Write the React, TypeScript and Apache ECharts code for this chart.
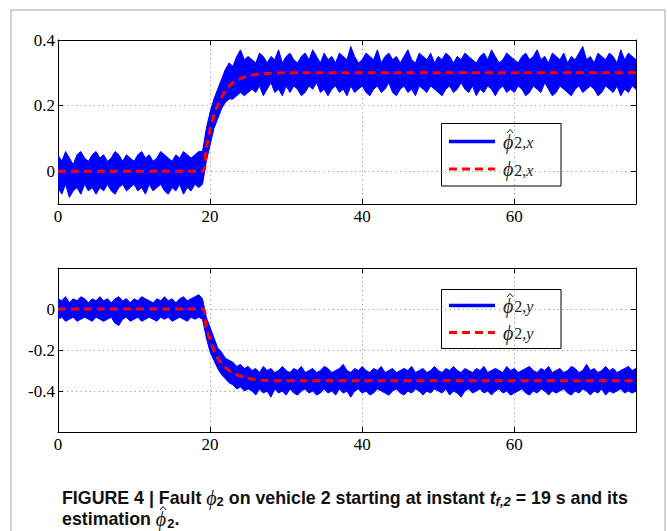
import React, { useEffect, useRef } from 'react';
import * as echarts from 'echarts';

// ---- sampling grid of the estimated signals (seconds) ----
const T_STEP = 0.5;
const T_MAX = 76;

// ---- tick values ----
const X_TICKS = [0, 20, 40, 60];
const TOP_Y_TICKS = [0, 0.2, 0.4];
const BOT_Y_TICKS = [-0.4, -0.2, 0];

// ---- estimated fault phi_hat_{2,x}: upper / lower envelope of the noisy trace (every 0.5 s) ----
const xUpper = [
  0.05, 0.03, 0.06, 0.04, 0.02, 0.05, 0.06, 0.04, 0.03, 0.05,
  0.06, 0.04, 0.05, 0.03, 0.04, 0.06, 0.05, 0.03, 0.05, 0.04,
  0.03, 0.05, 0.06, 0.04, 0.05, 0.03, 0.04, 0.06, 0.05, 0.04,
  0.03, 0.05, 0.04, 0.06, 0.05, 0.04, 0.05, 0.06,
  0.06,
  0.13, 0.18, 0.22, 0.25, 0.28, 0.31, 0.33, 0.32, 0.35, 0.37, 0.34, 0.35,
  0.34, 0.33, 0.36, 0.35, 0.33, 0.35, 0.34, 0.37, 0.33, 0.35,
  0.36, 0.34, 0.33, 0.35, 0.36, 0.34, 0.37, 0.35, 0.33, 0.36,
  0.34, 0.35, 0.33, 0.36, 0.35, 0.34, 0.38, 0.35, 0.33, 0.34,
  0.36, 0.35, 0.34, 0.37, 0.33, 0.35, 0.36, 0.34, 0.35, 0.33,
  0.35, 0.37, 0.34, 0.33, 0.36, 0.35, 0.34, 0.36, 0.33, 0.35,
  0.34, 0.36, 0.35, 0.33, 0.35, 0.34, 0.36, 0.35, 0.34, 0.33,
  0.35, 0.36, 0.34, 0.37, 0.35, 0.33, 0.34, 0.36, 0.35, 0.34,
  0.33, 0.35, 0.36, 0.34, 0.35, 0.37, 0.34, 0.35, 0.33, 0.36,
  0.35, 0.34, 0.36, 0.33, 0.35, 0.34, 0.36, 0.38, 0.34, 0.35,
  0.33, 0.36, 0.35, 0.34, 0.36, 0.35, 0.33, 0.37, 0.34, 0.36,
  0.35, 0.34,
];
const xLower = [
  -0.05, -0.07, -0.04, -0.08, -0.06, -0.05, -0.07, -0.04, -0.06, -0.05,
  -0.07, -0.05, -0.06, -0.04, -0.06, -0.07, -0.05, -0.04, -0.06, -0.05,
  -0.04, -0.06, -0.05, -0.07, -0.04, -0.06, -0.05, -0.04, -0.06, -0.07,
  -0.05, -0.06, -0.04, -0.07, -0.05, -0.06, -0.04, -0.05,
  -0.04,
  0.03, 0.08, 0.13, 0.16, 0.19, 0.21, 0.22, 0.22, 0.23, 0.24, 0.23, 0.24,
  0.25, 0.24, 0.26, 0.23, 0.25, 0.27, 0.24, 0.25, 0.23, 0.26,
  0.24, 0.26, 0.25, 0.23, 0.24, 0.26, 0.25, 0.27, 0.24, 0.25,
  0.23, 0.25, 0.26, 0.24, 0.25, 0.23, 0.26, 0.24, 0.25, 0.26,
  0.24, 0.23, 0.25, 0.26, 0.24, 0.25, 0.27, 0.24, 0.23, 0.25,
  0.26, 0.24, 0.25, 0.23, 0.26, 0.25, 0.24, 0.26, 0.25, 0.24,
  0.23, 0.25, 0.26, 0.24, 0.25, 0.27, 0.25, 0.24, 0.26, 0.23,
  0.25, 0.24, 0.26, 0.25, 0.23, 0.25, 0.26, 0.24, 0.25, 0.24,
  0.26, 0.25, 0.23, 0.24, 0.26, 0.25, 0.24, 0.27, 0.25, 0.23,
  0.24, 0.26, 0.25, 0.24, 0.23, 0.25, 0.26, 0.24, 0.25, 0.26,
  0.25, 0.23, 0.24, 0.26, 0.25, 0.24, 0.26, 0.23, 0.25, 0.24,
  0.26, 0.25,
];

// ---- true fault phi_{2,x} ----
const xRefT = [0, 19, 19.5, 20, 20.5, 21, 21.5, 22, 23, 24, 25, 26, 28, 30, 76];
const xRefV = [0, 0, 0.07, 0.125, 0.17, 0.2, 0.225, 0.245, 0.27, 0.283, 0.29, 0.295, 0.299, 0.3, 0.3];

// ---- estimated fault phi_hat_{2,y}: upper / lower envelope (every 0.5 s) ----
const yUpper = [
  0.05, 0.04, 0.06, 0.03, 0.05, 0.04, 0.06, 0.05, 0.03, 0.05,
  0.04, 0.06, 0.04, 0.05, 0.03, 0.05, 0.06, 0.04, 0.05, 0.03,
  0.05, 0.04, 0.06, 0.05, 0.04, 0.03, 0.05, 0.04, 0.06, 0.04,
  0.05, 0.03, 0.05, 0.06, 0.04, 0.05, 0.06, 0.07,
  0.05,
  -0.04, -0.09, -0.14, -0.19, -0.21, -0.24, -0.25, -0.26, -0.28, -0.27, -0.29, -0.28,
  -0.30, -0.29, -0.31, -0.28, -0.30, -0.29, -0.31, -0.30, -0.28, -0.30,
  -0.31, -0.29, -0.30, -0.28, -0.31, -0.30, -0.29, -0.31, -0.30, -0.28,
  -0.29, -0.31, -0.30, -0.29, -0.27, -0.30, -0.31, -0.29, -0.30, -0.28,
  -0.30, -0.31, -0.29, -0.30, -0.28, -0.31, -0.30, -0.29, -0.31, -0.30,
  -0.29, -0.30, -0.28, -0.31, -0.30, -0.29, -0.31, -0.30, -0.28, -0.30,
  -0.31, -0.29, -0.30, -0.28, -0.30, -0.31, -0.29, -0.30, -0.31, -0.29,
  -0.30, -0.28, -0.31, -0.30, -0.29, -0.30, -0.31, -0.28, -0.30, -0.29,
  -0.31, -0.30, -0.29, -0.28, -0.30, -0.31, -0.29, -0.30, -0.28, -0.31,
  -0.30, -0.29, -0.31, -0.30, -0.28, -0.29, -0.31, -0.30, -0.27, -0.30,
  -0.29, -0.31, -0.30, -0.28, -0.30, -0.29, -0.31, -0.30, -0.29, -0.28,
  -0.30, -0.29,
];
const yLower = [
  -0.05, -0.04, -0.06, -0.05, -0.04, -0.06, -0.05, -0.04, -0.05, -0.06,
  -0.04, -0.05, -0.06, -0.05, -0.04, -0.07, -0.08, -0.05, -0.04, -0.06,
  -0.05, -0.04, -0.06, -0.05, -0.04, -0.05, -0.06, -0.04, -0.05, -0.04,
  -0.06, -0.05, -0.04, -0.05, -0.06, -0.04, -0.05, -0.04,
  -0.05,
  -0.14, -0.21, -0.25, -0.29, -0.32, -0.34, -0.36, -0.37, -0.39, -0.38, -0.40, -0.39,
  -0.40, -0.42, -0.39, -0.41, -0.40, -0.43, -0.39, -0.41, -0.40, -0.42,
  -0.39, -0.41, -0.42, -0.40, -0.39, -0.41, -0.40, -0.42, -0.41, -0.39,
  -0.41, -0.40, -0.42, -0.39, -0.41, -0.40, -0.43, -0.40, -0.39, -0.41,
  -0.40, -0.42, -0.41, -0.39, -0.40, -0.41, -0.42, -0.40, -0.39, -0.41,
  -0.42, -0.40, -0.41, -0.39, -0.40, -0.42, -0.40, -0.41, -0.39, -0.40,
  -0.41, -0.39, -0.42, -0.40, -0.41, -0.43, -0.40, -0.39, -0.41, -0.40,
  -0.39, -0.41, -0.40, -0.42, -0.40, -0.39, -0.41, -0.40, -0.42, -0.41,
  -0.40, -0.39, -0.41, -0.42, -0.40, -0.41, -0.39, -0.40, -0.42, -0.40,
  -0.41, -0.40, -0.39, -0.41, -0.42, -0.40, -0.41, -0.39, -0.40, -0.42,
  -0.40, -0.41, -0.39, -0.42, -0.40, -0.41, -0.40, -0.39, -0.41, -0.40,
  -0.41, -0.40,
];

// ---- true fault phi_{2,y} ----
const yRefT = [0, 19, 19.5, 20, 20.5, 21, 21.5, 22, 22.5, 23, 24, 25, 26, 27, 29, 76];
const yRefV = [0, 0, -0.09, -0.15, -0.2, -0.24, -0.265, -0.285, -0.3, -0.312, -0.328, -0.338, -0.344, -0.347, -0.35, -0.35];

const BLUE = '#0000ff';
const RED = '#ff0000';
const SERIF = 'Liberation Serif';
const SANS = 'Liberation Sans';

const fmt = (v: number) => String(Math.round(v * 10) / 10);

let measureCtx: CanvasRenderingContext2D | null = null;
function measure(text: string, font: string): number {
  if (!measureCtx) measureCtx = document.createElement('canvas').getContext('2d');
  if (!measureCtx) return text.length * 8;
  measureCtx.font = font;
  return measureCtx.measureText(text).width;
}

// a circumflex accent drawn as a small caret
function hat(cx: number, yTop: number, color: string, w = 3, h = 3.5) {
  return {
    type: 'polyline', silent: true,
    shape: { points: [[cx - w, yTop + h], [cx, yTop], [cx + w, yTop + h]] },
    style: { stroke: color, lineWidth: 1, fill: 'none' },
  };
}

function axesFor(gridIndex: number, yMin: number, yMax: number, yTicks: number[]) {
  const tick = { show: true, inside: true, length: 5, lineStyle: { color: '#000', width: 1 } };
  const line = { show: true, onZero: false, lineStyle: { color: '#000', width: 1 } };
  const grid = { show: true, lineStyle: { color: '#9a9a9a', width: 1, type: [1.2, 3.3] } };
  const label = { color: '#000', fontFamily: SERIF, fontSize: 17 };
  const x = [
    {
      type: 'value', gridIndex, min: 0, max: T_MAX, position: 'bottom',
      axisLine: line,
      axisTick: { ...tick, customValues: X_TICKS },
      axisLabel: { ...label, margin: 4, customValues: X_TICKS, formatter: (v: number) => fmt(v) },
      splitLine: grid,
    },
    {
      type: 'value', gridIndex, min: 0, max: T_MAX, position: 'top',
      axisLine: line,
      axisTick: { ...tick, customValues: X_TICKS },
      axisLabel: { show: false },
      splitLine: { show: false },
    },
  ];
  const y = [
    {
      type: 'value', gridIndex, min: yMin, max: yMax, position: 'left',
      axisLine: line,
      axisTick: { ...tick, customValues: yTicks },
      axisLabel: { ...label, margin: 3, customValues: yTicks, formatter: (v: number) => fmt(v) },
      splitLine: grid,
    },
    {
      type: 'value', gridIndex, min: yMin, max: yMax, position: 'right',
      axisLine: line,
      axisTick: { ...tick, customValues: yTicks },
      axisLabel: { show: false },
      splitLine: { show: false },
    },
  ];
  return { x, y };
}

// noisy estimate: filled band between the upper and lower envelopes
function bandSeries(axisIdx: number, name: string, upper: number[], lower: number[]) {
  return {
    type: 'custom', name, xAxisIndex: axisIdx, yAxisIndex: axisIdx,
    data: upper.map((v, i) => [i * T_STEP, v, lower[i]]),
    encode: { x: 0, y: [1, 2] },
    silent: true, z: 2, clip: true,
    renderItem: (params: any, api: any) => {
      if (params.dataIndex !== 0) return null;
      const top = upper.map((v, i) => api.coord([i * T_STEP, v]));
      const bot = lower.map((v, i) => api.coord([i * T_STEP, v])).reverse();
      return {
        type: 'polygon',
        shape: { points: top.concat(bot) },
        style: { fill: BLUE, stroke: BLUE, lineWidth: 1, lineJoin: 'miter' },
      };
    },
  };
}

function refSeries(axisIdx: number, name: string, ts: number[], vs: number[]) {
  return {
    type: 'line', name, xAxisIndex: axisIdx, yAxisIndex: axisIdx,
    data: ts.map((t, i) => [t, vs[i]]), symbol: 'none', silent: true, smooth: 0.3,
    lineStyle: { color: RED, width: 3, type: [8, 5] }, itemStyle: { color: RED }, z: 3,
  };
}

// legend box drawn with graphic elements (matlab-style)
function legendGraphic(top: number, height: number, lineY1: number, lineY2: number, sub: string) {
  const phiFont = `italic 20px ${SERIF}`;
  const phiW = measure('ϕ', phiFont);
  const subX = 503 + phiW + 1;
  const w2 = measure('2,', `16px ${SERIF}`);
  const entry = (y: number, withHat: boolean) => {
    const els: any[] = [
      { type: 'text', x: 503, y, style: { text: 'ϕ', font: phiFont, fill: '#222', verticalAlign: 'middle' } },
      { type: 'text', x: subX, y: y + 1, style: { text: '2,', font: `16px ${SERIF}`, fill: '#222', verticalAlign: 'middle' } },
      { type: 'text', x: subX + w2, y: y + 1, style: { text: sub, font: `italic 16px ${SERIF}`, fill: '#222', verticalAlign: 'middle' } },
    ];
    if (withHat) els.push(hat(503 + phiW / 2 + 2, y - 12, '#222'));
    return els;
  };
  return {
    type: 'group', silent: true, z: 20,
    children: [
      { type: 'rect', shape: { x: 441.5, y: top + 0.5, width: 119.5, height }, style: { fill: '#fff', stroke: '#000', lineWidth: 1 } },
      { type: 'line', shape: { x1: 449, y1: lineY1, x2: 495, y2: lineY1 }, style: { stroke: BLUE, lineWidth: 3.5 } },
      { type: 'line', shape: { x1: 449, y1: lineY2, x2: 495, y2: lineY2 }, style: { stroke: RED, lineWidth: 3, lineDash: [8, 5] } },
      ...entry(lineY1, true),
      ...entry(lineY2, false),
    ],
  };
}

export default function App() {
  const ref = useRef<HTMLDivElement>(null);
  useEffect(() => {
    if (!ref.current) return;
    const chart = echarts.init(ref.current, undefined, { renderer: 'svg' });
    const a0 = axesFor(0, -0.1, 0.4, TOP_Y_TICKS);
    const a1 = axesFor(1, -0.6, 0.2, BOT_Y_TICKS);

    const CAP_SIZE = 17.8;
    const capFont = `bold ${CAP_SIZE}px ${SANS}`;
    const capB = { fontFamily: SANS, fontWeight: 'bold', fontSize: CAP_SIZE, fill: '#111', lineHeight: 20 };
    const capSub = { fontFamily: SANS, fontWeight: 'bold', fontSize: 13, fill: '#111', lineHeight: 12, verticalAlign: 'bottom' };
    const mathFont = `italic 20px ${SERIF}`;

    // caption line 2 pieces
    const c2x = 62;
    const c2y = 519;
    const wEst = measure('estimation ', capFont);
    const wPhi = measure('ϕ', mathFont);
    const w2 = measure('2', `bold 13px ${SANS}`);

    const option: any = {
      animation: false,
      backgroundColor: '#fff',
      grid: [
        { left: 58, top: 40, width: 578, height: 164, outerBoundsMode: 'none' },
        { left: 58, top: 268, width: 578, height: 164, outerBoundsMode: 'none' },
      ],
      // axis order: [grid0 bottom, grid0 top, grid1 bottom, grid1 top]
      xAxis: [a0.x[0], a0.x[1], a1.x[0], a1.x[1]],
      yAxis: [a0.y[0], a0.y[1], a1.y[0], a1.y[1]],
      series: [
        bandSeries(0, 'ϕ̂2,x', xUpper, xLower),
        refSeries(0, 'ϕ2,x', xRefT, xRefV),
        bandSeries(2, 'ϕ̂2,y', yUpper, yLower),
        refSeries(2, 'ϕ2,y', yRefT, yRefV),
      ],
      graphic: [
        {
          type: 'rect', silent: true, z: -1,
          shape: { x: 11, y: 10, width: 654, height: 560 },
          style: { fill: 'none', stroke: '#c4c4c4', lineWidth: 1.5 },
        },
        legendGraphic(123, 62.5, 141.5, 169, 'x'),
        legendGraphic(289, 59, 305.5, 332.5, 'y'),
        {
          type: 'text', x: 62, y: 498, silent: true,
          style: {
            text: '{b|FIGURE 4 | Fault }{m|ϕ}{bs|2}{b| on vehicle 2 starting at instant }{bi|t}{bis|f,2}{b| = 19 s and its}',
            verticalAlign: 'middle',
            rich: {
              b: capB,
              m: { fontFamily: SERIF, fontStyle: 'italic', fontSize: 20, fill: '#111', lineHeight: 20 },
              bs: capSub,
              bi: { ...capB, fontStyle: 'italic' },
              bis: { ...capSub, fontStyle: 'italic' },
            },
          },
        },
        {
          type: 'group', silent: true,
          children: [
            { type: 'text', x: c2x, y: c2y, style: { text: 'estimation ', font: capFont, fill: '#111', verticalAlign: 'middle' } },
            { type: 'text', x: c2x + wEst, y: c2y, style: { text: 'ϕ', font: mathFont, fill: '#111', verticalAlign: 'middle' } },
            hat(c2x + wEst + wPhi / 2 + 2, c2y - 12.5, '#111'),
            { type: 'text', x: c2x + wEst + wPhi + 1, y: c2y + 4, style: { text: '2', font: `bold 13px ${SANS}`, fill: '#111', verticalAlign: 'middle' } },
            { type: 'text', x: c2x + wEst + wPhi + 1 + w2, y: c2y, style: { text: '.', font: capFont, fill: '#111', verticalAlign: 'middle' } },
          ],
        },
      ],
    };
    chart.setOption(option);
    return () => chart.dispose();
  }, []);
  return (
    <div
      ref={ref}
      style={{ position: 'absolute', left: 0, top: 0, width: 668, height: 531, background: '#fff' }}
    />
  );
}
